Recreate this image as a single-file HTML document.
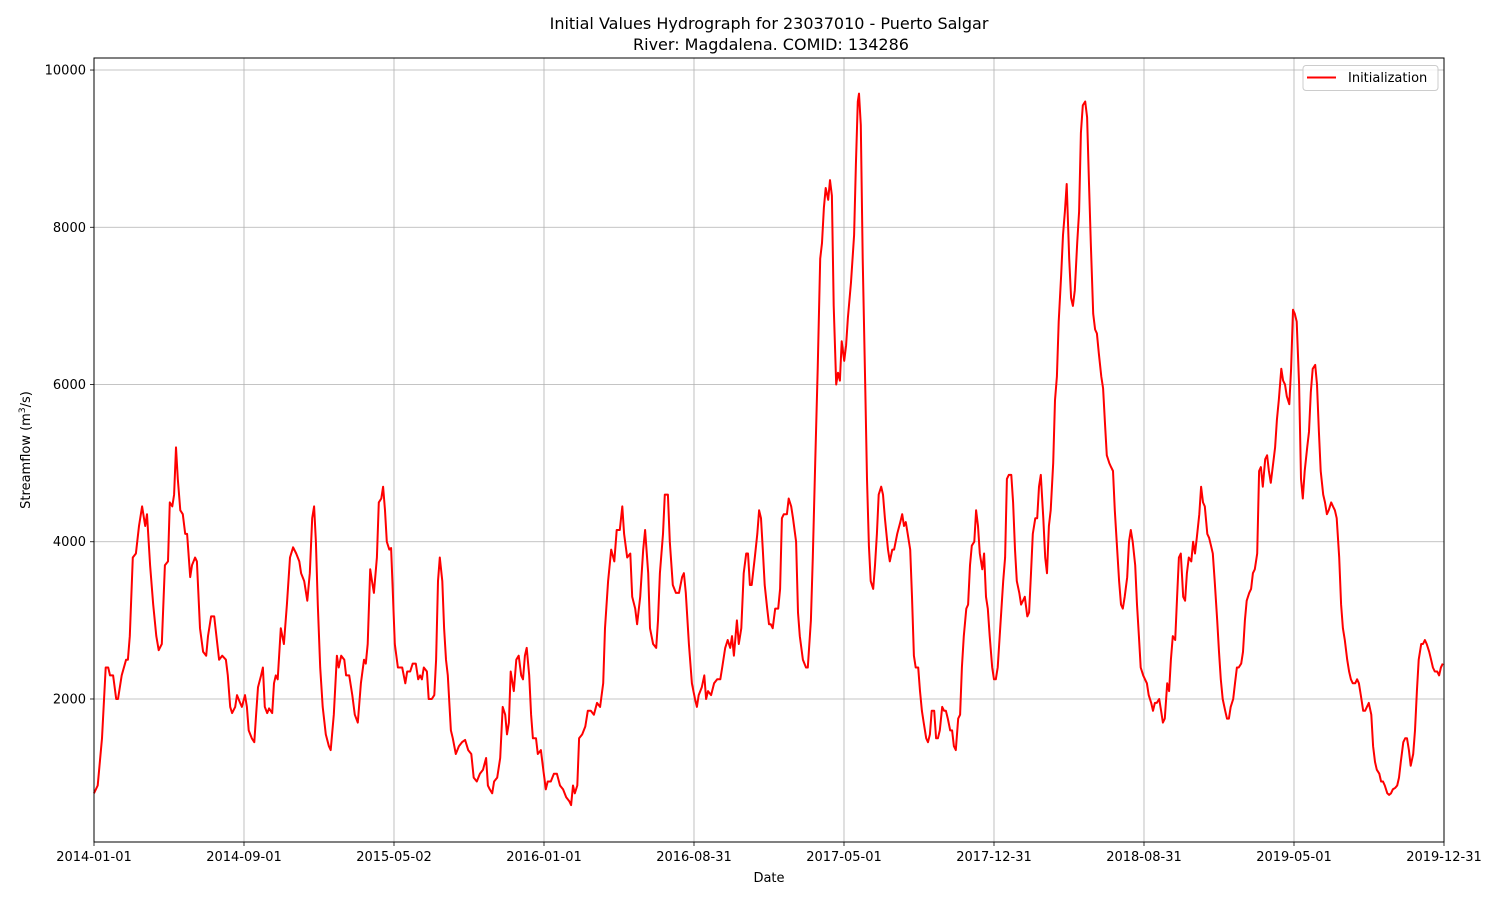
<!DOCTYPE html>
<html><head><meta charset="utf-8">
<style>
html,body{margin:0;padding:0;background:#fff;}
svg{display:block;font-family:"DejaVu Sans","Liberation Sans",sans-serif;}
</style></head>
<body>
<svg id="chart" width="1500" height="900" viewBox="0 0 1500 900" xmlns="http://www.w3.org/2000/svg">
<rect x="0" y="0" width="1500" height="900" fill="#fff"/>
<text x="769" y="29" text-anchor="middle" font-size="16" fill="#000">Initial Values Hydrograph for 23037010 - Puerto Salgar</text>
<text x="771" y="50" text-anchor="middle" font-size="16" fill="#000">River: Magdalena. COMID: 134286</text>
<g id="grid"></g>
<g id="xaxis"></g>
<g id="yaxis"></g>
<g id="series"></g>
<rect x="94" y="58" width="1350" height="784" fill="none" stroke="#000" stroke-width="1"/>
<text x="769" y="882" text-anchor="middle" font-size="13" fill="#000">Date</text>
<text transform="translate(30,450) rotate(-90)" text-anchor="middle" font-size="13" fill="#000">Streamflow (m<tspan dy="-5" font-size="9">3</tspan><tspan dy="5">/s)</tspan></text>
<g>
<rect x="1303" y="65.5" width="135" height="25" rx="3" fill="#fff" fill-opacity="0.8" stroke="#ccc"/>
<line x1="1307" y1="77.5" x2="1336" y2="77.5" stroke="#ff0000" stroke-width="2"/>
<text x="1348" y="82" font-size="13" fill="#000">Initialization</text>
</g>
</svg>
<script>
const tickLabels = ["2014-01-01","2014-09-01","2015-05-02","2016-01-01","2016-08-31","2017-05-01","2017-12-31","2018-08-31","2019-05-01","2019-12-31"];
const yTicks = [2000,4000,6000,8000,10000];
const days = [0,6,13,19,23,26,31,36,39,45,52,55,58,63,68,73,78,83,86,91,96,101,105,110,115,120,123,127,130,133,136,140,144,148,151,156,159,164,167,172,177,182,185,190,195,200,203,208,214,217,221,224,229,232,237,240,245,248,251,256,260,263,266,271,274,277,281,284,289,292,295,298,303,308,313,318,323,328,333,336,341,346,350,354,357,360,363,367,371,376,381,384,389,394,397,401,406,409,414,419,423,428,433,438,441,444,448,451,454,459,462,466,469,472,475,479,482,485,488,493,500,505,508,513,517,522,526,529,532,535,540,543,548,552,555,558,561,565,568,571,574,579,582,587,592,597,602,607,612,616,621,626,631,636,639,642,646,649,654,659,663,667,670,673,676,681,685,689,693,696,699,702,706,709,712,717,720,725,728,733,736,741,746,751,756,761,766,771,774,777,780,784,787,792,797,801,806,811,816,821,826,829,834,839,844,848,853,857,860,865,870,873,878,881,886,891,894,899,902,907,912,915,918,923,926,931,934,939,944,949,954,957,960,965,970,975,978,981,986,990,993,996,1001,1006,1011,1016,1019,1024,1028,1032,1035,1038,1043,1046,1050,1054,1058,1061,1064,1067,1072,1076,1079,1082,1085,1088,1092,1095,1098,1101,1105,1110,1113,1116,1119,1124,1127,1131,1134,1139,1142,1145,1150,1155,1158,1163,1166,1170,1174,1178,1181,1184,1187,1191,1194,1197,1200,1204,1207,1210,1213,1217,1220,1223,1228,1233,1236,1239,1241,1244,1247,1251,1254,1257,1260,1264,1267,1270,1273,1277,1280,1283,1288,1291,1295,1298,1303,1308,1311,1314,1317,1320,1324,1327,1330,1333,1337,1340,1343,1346,1350,1353,1356,1359,1363,1366,1369,1372,1376,1379,1382,1385,1389,1392,1395,1398,1402,1405,1408,1411,1415,1418,1421,1424,1428,1431,1434,1437,1441,1444,1447,1450,1453,1457,1460,1463,1466,1470,1475,1478,1481,1484,1488,1491,1494,1497,1501,1504,1507,1510,1514,1517,1520,1523,1527,1530,1533,1536,1540,1543,1546,1549,1552,1556,1559,1562,1565,1569,1572,1575,1578,1582,1585,1588,1591,1595,1598,1601,1604,1608,1611,1614,1617,1621,1624,1627,1630,1634,1637,1640,1643,1647,1650,1653,1656,1659,1663,1666,1669,1672,1676,1679,1682,1685,1689,1692,1695,1698,1702,1705,1708,1711,1715,1718,1721,1724,1728,1731,1734,1737,1741,1744,1747,1750,1754,1757,1760,1763,1767,1770,1773,1776,1780,1783,1786,1789,1793,1796,1799,1802,1806,1809,1812,1815,1818,1822,1825,1828,1831,1835,1838,1841,1844,1848,1851,1854,1857,1861,1864,1867,1870,1874,1877,1880,1883,1887,1890,1893,1896,1900,1903,1906,1909,1913,1916,1919,1922,1926,1929,1932,1935,1939,1942,1945,1948,1951,1955,1958,1961,1964,1968,1971,1974,1977,1981,1984,1987,1990,1994,1997,2000,2003,2007,2010,2013,2016,2020,2023,2026,2029,2033,2036,2039,2042,2046,2049,2052,2055,2059,2062,2065,2068,2072,2075,2078,2081,2085,2088,2091,2094,2098,2101,2104,2107,2111,2114,2117,2120,2124,2127,2130,2133,2136,2140,2143,2146,2149,2153,2156,2159,2162,2166,2169,2172,2175,2179,2182,2185,2188];
const flows = [800,900,1500,2400,2400,2300,2300,2000,2000,2300,2500,2500,2800,3800,3850,4200,4450,4200,4350,3700,3200,2800,2620,2700,3700,3750,4500,4450,4600,5200,4800,4400,4350,4100,4100,3550,3700,3800,3750,2900,2600,2550,2800,3050,3050,2700,2500,2550,2500,2300,1900,1820,1900,2050,1950,1900,2050,1900,1600,1500,1450,1800,2150,2300,2400,1900,1820,1880,1820,2200,2300,2250,2900,2700,3200,3800,3930,3850,3750,3600,3500,3250,3600,4300,4450,4000,3200,2400,1900,1550,1400,1350,1800,2550,2400,2550,2500,2300,2300,2050,1800,1700,2200,2500,2450,2700,3650,3500,3350,3800,4500,4550,4700,4400,4000,3900,3920,3300,2700,2400,2400,2200,2350,2350,2450,2450,2250,2300,2250,2400,2350,2000,2000,2050,2500,3500,3800,3500,2900,2500,2300,1600,1500,1300,1400,1450,1480,1350,1300,1000,950,1050,1100,1250,900,850,800,950,1000,1250,1900,1800,1550,1700,2350,2100,2500,2550,2300,2250,2550,2650,2300,1800,1500,1500,1300,1350,1150,850,950,950,1050,1050,900,850,750,700,650,900,800,900,1500,1550,1650,1850,1850,1800,1950,1900,2200,2900,3500,3900,3750,4150,4150,4450,4100,3800,3850,3300,3150,2950,3300,3900,4150,3600,2900,2700,2650,3000,3600,4100,4600,4600,4000,3450,3350,3350,3550,3600,3350,2700,2200,2000,1900,2050,2150,2300,2000,2100,2050,2200,2250,2250,2400,2650,2750,2650,2800,2550,3000,2700,2900,3600,3850,3850,3450,3450,3800,4100,4400,4300,3900,3450,3150,2950,2950,2900,3150,3150,3400,4300,4350,4350,4550,4450,4300,4000,3100,2800,2500,2400,2400,3000,3800,5000,6200,7600,7800,8250,8500,8350,8600,8400,7000,6000,6150,6050,6550,6300,6500,6850,7300,7900,8800,9600,9700,9300,7600,6000,4800,3950,3500,3400,3700,4100,4600,4700,4600,4300,3900,3750,3900,3900,4100,4250,4350,4200,4250,4100,3900,3300,2550,2400,2400,2100,1850,1700,1500,1450,1550,1850,1850,1500,1500,1600,1900,1850,1850,1750,1600,1600,1400,1350,1750,1800,2400,2800,3150,3200,3700,3950,4000,4400,4200,3850,3650,3850,3300,3150,2800,2400,2250,2250,2400,2900,3500,3800,4800,4850,4850,4500,3900,3500,3350,3200,3250,3300,3050,3100,3600,4100,4300,4300,4700,4850,4300,3800,3600,4200,4400,5000,5800,6100,6800,7400,7900,8200,8550,7600,7100,7000,7200,7800,8200,9200,9550,9600,9400,8600,7800,6900,6700,6650,6400,6100,5950,5500,5100,5000,4950,4900,4400,4000,3500,3200,3150,3300,3550,4000,4150,4000,3700,3200,2800,2400,2300,2250,2200,2050,1950,1850,1950,1950,2000,1850,1700,1750,2200,2100,2500,2800,2750,3300,3800,3850,3300,3250,3600,3800,3750,4000,3850,4050,4350,4700,4500,4450,4100,4050,3950,3850,3500,3000,2600,2250,2000,1850,1750,1750,1900,2000,2200,2400,2400,2450,2600,3000,3250,3350,3400,3600,3650,3850,4900,4950,4700,5050,5100,4900,4750,5000,5200,5550,5800,6200,6050,6000,5850,5750,6200,6950,6900,6800,6000,4800,4550,4900,5200,5400,5900,6200,6250,6000,5400,4900,4600,4500,4350,4400,4500,4450,4400,4300,3800,3200,2900,2750,2500,2350,2250,2200,2200,2250,2200,2050,1850,1850,1900,1950,1800,1400,1200,1100,1050,950,950,900,800,780,800,850,870,900,1000,1200,1450,1500,1500,1350,1150,1300,1600,2100,2500,2700,2700,2750,2700,2600,2500,2400,2350,2350,2300,2400,2450];

const NS = "http://www.w3.org/2000/svg";
const L = 94, R = 1444, T = 58, B = 842;
const X0 = 0, X1 = 2190, Y0 = 181, Y1 = 10153;
function xs(d){ return L + (d - X0) / (X1 - X0) * (R - L); }
function ys(v){ return B - (v - Y0) / (Y1 - Y0) * (B - T); }
function mk(tag, attrs, parent){
  const e = document.createElementNS(NS, tag);
  for (const k in attrs) e.setAttribute(k, attrs[k]);
  parent.appendChild(e);
  return e;
}
const grid = document.getElementById('grid');
const xa = document.getElementById('xaxis');
const ya = document.getElementById('yaxis');
const series = document.getElementById('series');

tickLabels.forEach((lab, i) => {
  const d = X0 + i * (X1 - X0) / (tickLabels.length - 1);
  const x = xs(d);
  const g = mk('line', {x1:x, y1:T, x2:x, y2:B, stroke:'#b0b0b0', 'stroke-width':0.8}, grid);
  
  
  const t = mk('line', {x1:x, y1:B, x2:x, y2:B+4, stroke:'#000', 'stroke-width':0.8}, xa);
  
  
  const tx = mk('text', {x:x, y:B+19, 'text-anchor':'middle', 'font-size':13, fill:'#000'}, xa);
  tx.textContent = lab;
  
  
});
yTicks.forEach(v => {
  const y = ys(v);
  const g = mk('line', {x1:L, y1:y, x2:R, y2:y, stroke:'#b0b0b0', 'stroke-width':0.8}, grid);
  
  
  const t = mk('line', {x1:L-4, y1:y, x2:L, y2:y, stroke:'#000', 'stroke-width':0.8}, ya);
  
  
  const tx = mk('text', {x:L-8, y:y+4.5, 'text-anchor':'end', 'font-size':13, fill:'#000'}, ya);
  tx.textContent = String(v);
  
  
});
let dstr = '';
for (let i = 0; i < days.length; i++){
  dstr += (i ? 'L' : 'M') + xs(days[i]).toFixed(1) + ',' + ys(flows[i]).toFixed(1);
}
const p = mk('path', {d:dstr, fill:'none', stroke:'#ff0000', 'stroke-width':2, 'stroke-linejoin':'round'}, series);


</script>
</body></html>
